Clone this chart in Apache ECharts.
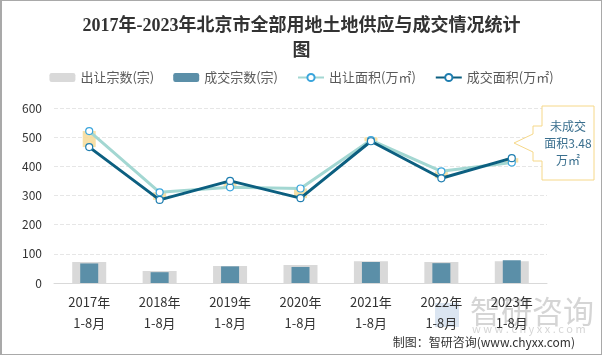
<!DOCTYPE html>
<html><head><meta charset="utf-8">
<script src="https://cdn.jsdelivr.net/npm/echarts@6/dist/echarts.min.js"></script>
<style>
html,body{margin:0;padding:0;background:#fff;}
#c{width:602px;height:355px;box-sizing:border-box;border:1px solid #a9a9a9;border-left:2px solid #a9a9a9;}
</style></head>
<body><div id="c"></div>
<script>
const categories = ['2017年\n1-8月','2018年\n1-8月','2019年\n1-8月','2020年\n1-8月','2021年\n1-8月','2022年\n1-8月','2023年\n1-8月'];
const supplyCount = [72, 41, 58, 62, 75, 72, 75];
const dealCount = [67, 37, 57, 55, 72, 68, 78];
const supplyArea = [521, 311, 328, 324, 490, 383, 413];
const dealArea = [466, 285, 350, 291, 486, 359, 428];
const yTicks = [0, 100, 200, 300, 400, 500, 600];

const diffBase = supplyArea.map((v, i) => Math.min(v, dealArea[i]));
const diffSize = supplyArea.map((v, i) => Math.abs(v - dealArea[i]));

const font = '"Noto Sans CJK SC", sans-serif';
const chart = echarts.init(document.getElementById('c'));
const hiddenX = { type: 'category', data: categories, show: false, gridIndex: 0 };
chart.setOption({
  animation: false,
  backgroundColor: '#fff',
  title: {
    text: '2017年-2023年北京市全部用地土地供应与成交情况统计\n图',
    left: 'center', top: 8,
    textStyle: { fontFamily: '"Liberation Serif", "Noto Sans CJK SC", serif', fontSize: 18, fontWeight: 'bold', color: '#333', lineHeight: 25 }
  },
  legend: {
    top: 65, left: 'center', itemWidth: 26, itemHeight: 9, itemGap: 19,
    textStyle: { fontFamily: font, fontSize: 13, color: '#595959' },
    data: ['出让宗数(宗)', '成交宗数(宗)', '出让面积(万㎡)', '成交面积(万㎡)']
  },
  grid: { left: 52, right: 54, top: 107, bottom: 71 },
  xAxis: [
    { type: 'category', data: categories,
      axisLine: { lineStyle: { color: '#d9d9d9', width: 1 } }, axisTick: { show: false },
      axisLabel: { fontFamily: font, fontSize: 13, color: '#333', lineHeight: 21, margin: 9, interval: 0 } },
    hiddenX, hiddenX
  ],
  yAxis: {
    type: 'value', min: yTicks[0], max: yTicks[yTicks.length - 1], interval: 100,
    axisLine: { show: false }, axisTick: { show: false },
    axisLabel: { fontFamily: font, fontSize: 12, color: '#333', margin: 12 },
    splitLine: { lineStyle: { color: '#e6e6e6', type: 'dashed' } }
  },
  series: [
    { name: '出让宗数(宗)', type: 'bar', xAxisIndex: 0, data: supplyCount, barWidth: 34,
      itemStyle: { color: '#d9d9d9' } },
    { name: '成交宗数(宗)', type: 'bar', xAxisIndex: 1, data: dealCount, barWidth: 18,
      itemStyle: { color: '#5b8fa8' } },
    { name: 'base', type: 'bar', xAxisIndex: 2, stack: 'd', data: diffBase, barWidth: 13,
      itemStyle: { color: 'rgba(0,0,0,0)' }, silent: true },
    { name: 'diff', type: 'bar', xAxisIndex: 2, stack: 'd', data: diffSize, barWidth: 13, barMinHeight: 4,
      itemStyle: { color: 'rgba(246,219,152,0.85)' }, silent: true },
    { name: '出让面积(万㎡)', type: 'line', xAxisIndex: 0, data: supplyArea,
      symbol: 'circle', symbolSize: 7,
      lineStyle: { color: '#a3d7d2', width: 3 },
      itemStyle: { color: '#fff', borderColor: '#3aa5dc', borderWidth: 1.2 } },
    { name: '成交面积(万㎡)', type: 'line', xAxisIndex: 0, data: dealArea,
      symbol: 'circle', symbolSize: 7,
      lineStyle: { color: '#0c5f80', width: 3 },
      itemStyle: { color: '#fff', borderColor: '#1f7eb0', borderWidth: 1.2 } }
  ],
  graphic: [
    { type: 'polygon', z: 10,
      shape: { points: [[540,105],[592,105],[592,179],[540,179],[540,160],[531,160],[531,151],[512,142],[531,133],[531,125],[540,125]] },
      style: { fill: '#fff', stroke: '#f6d889', lineWidth: 1 } },
    { type: 'text', z: 11, x: 566, y: 117,
      style: { text: '未成交\n面积3.48\n万㎡', align: 'center', fontFamily: font, fontSize: 12, lineHeight: 17, fill: '#3a6f8e' } },
    { type: 'text', z: 0, left: 468, top: 295,
      style: { text: '智研咨询', fontFamily: font, fontSize: 31, fill: 'rgba(150,150,150,0.4)' } },
    { type: 'text', z: 0, left: 470, top: 322,
      style: { text: 'w w w . c h y x x . c o m', fontFamily: font, fontSize: 11, fill: 'rgba(150,150,150,0.4)' } },
    { type: 'rect', z: 0, shape: { x: 433, y: 302, width: 24, height: 24 },
      style: { fill: 'rgba(110,150,200,0.25)' } },
    { type: 'text', z: 5, right: 26, top: 335,
      style: { text: '制图：智研咨询(www.chyxx.com)', fontFamily: font, fontSize: 12, fill: '#333' } }
  ]
});
</script></body></html>
